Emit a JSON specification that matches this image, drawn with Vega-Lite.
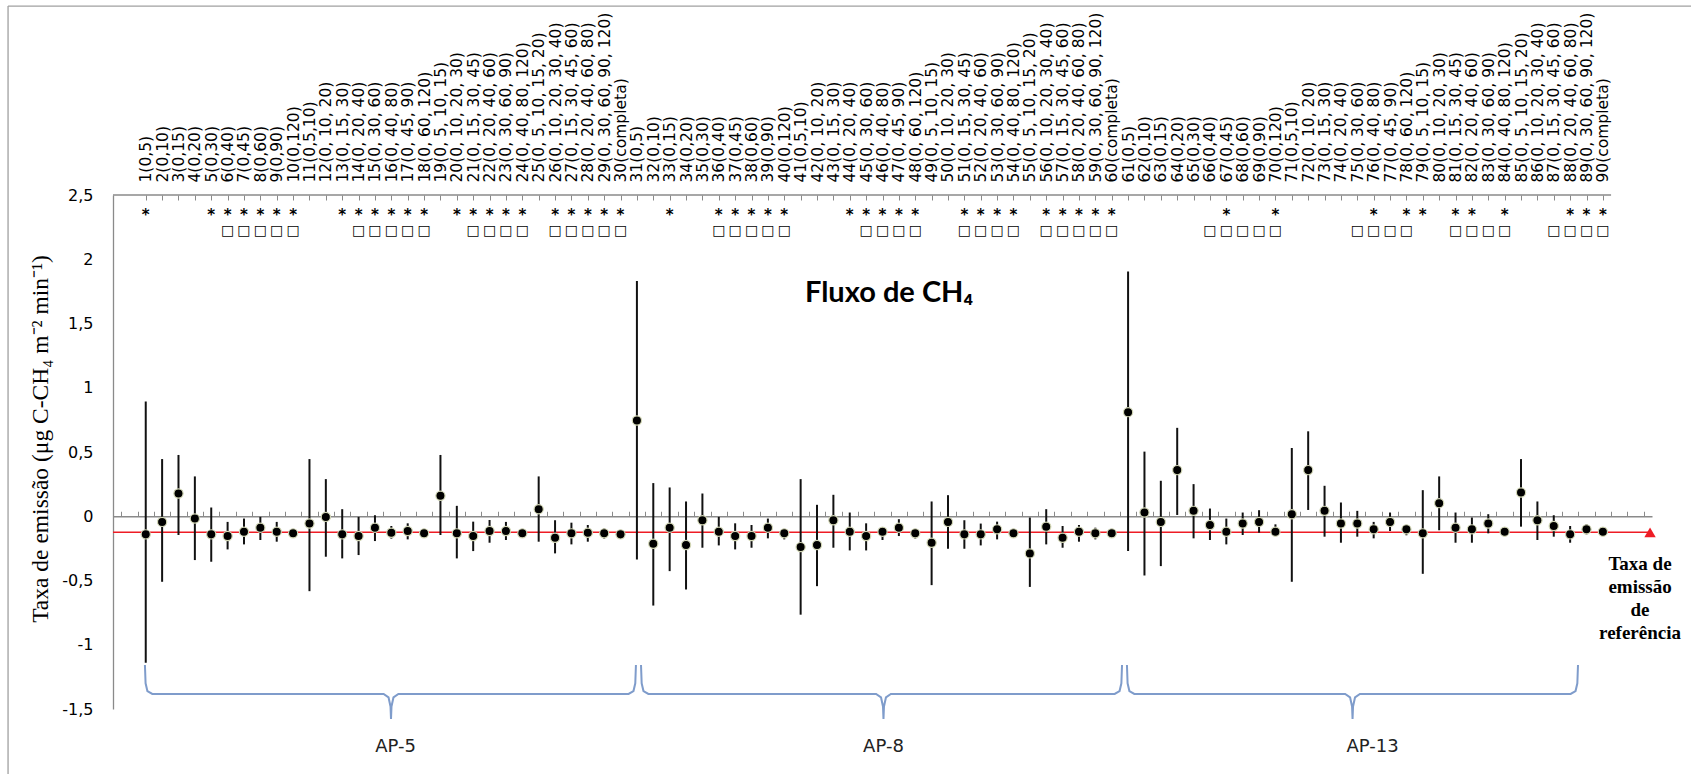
{
  "$schema": "https://vega.github.io/schema/vega-lite/v6.json",
  "width": 1539,
  "height": 514,
  "autosize": {"type": "none"},
  "padding": {"left": 113, "top": 195, "right": 39, "bottom": 65},
  "background": "white",
  "view": {"stroke": null},
  "config": {"axis": {"grid": false}},
  "datasets": {
    "pontos": [
      {"amostra": 1, "media": -0.141, "min": -1.14, "max": 0.893, "asterisco": 1, "quadrado": 0},
      {"amostra": 2, "media": -0.044, "min": -0.51, "max": 0.445, "asterisco": 0, "quadrado": 0},
      {"amostra": 3, "media": 0.177, "min": -0.146, "max": 0.477, "asterisco": 0, "quadrado": 0},
      {"amostra": 4, "media": -0.018, "min": -0.341, "max": 0.31, "asterisco": 0, "quadrado": 0},
      {"amostra": 5, "media": -0.141, "min": -0.354, "max": 0.068, "asterisco": 1, "quadrado": 0},
      {"amostra": 6, "media": -0.154, "min": -0.258, "max": -0.044, "asterisco": 1, "quadrado": 1},
      {"amostra": 7, "media": -0.12, "min": -0.219, "max": -0.018, "asterisco": 1, "quadrado": 1},
      {"amostra": 8, "media": -0.089, "min": -0.185, "max": -0.005, "asterisco": 1, "quadrado": 1},
      {"amostra": 9, "media": -0.12, "min": -0.198, "max": -0.044, "asterisco": 1, "quadrado": 1},
      {"amostra": 10, "media": -0.133, "min": -0.167, "max": -0.107, "asterisco": 1, "quadrado": 1},
      {"amostra": 11, "media": -0.057, "min": -0.583, "max": 0.445, "asterisco": 0, "quadrado": 0},
      {"amostra": 12, "media": -0.005, "min": -0.315, "max": 0.289, "asterisco": 0, "quadrado": 0},
      {"amostra": 13, "media": -0.141, "min": -0.328, "max": 0.055, "asterisco": 1, "quadrado": 0},
      {"amostra": 14, "media": -0.154, "min": -0.302, "max": -0.005, "asterisco": 1, "quadrado": 1},
      {"amostra": 15, "media": -0.089, "min": -0.193, "max": 0.008, "asterisco": 1, "quadrado": 1},
      {"amostra": 16, "media": -0.128, "min": -0.174, "max": -0.076, "asterisco": 1, "quadrado": 1},
      {"amostra": 17, "media": -0.115, "min": -0.18, "max": -0.055, "asterisco": 1, "quadrado": 1},
      {"amostra": 18, "media": -0.133, "min": -0.167, "max": -0.1, "asterisco": 1, "quadrado": 1},
      {"amostra": 19, "media": 0.159, "min": -0.146, "max": 0.477, "asterisco": 0, "quadrado": 0},
      {"amostra": 20, "media": -0.133, "min": -0.328, "max": 0.081, "asterisco": 1, "quadrado": 0},
      {"amostra": 21, "media": -0.154, "min": -0.271, "max": -0.042, "asterisco": 1, "quadrado": 1},
      {"amostra": 22, "media": -0.115, "min": -0.206, "max": -0.029, "asterisco": 1, "quadrado": 1},
      {"amostra": 23, "media": -0.115, "min": -0.185, "max": -0.044, "asterisco": 1, "quadrado": 1},
      {"amostra": 24, "media": -0.133, "min": -0.167, "max": -0.107, "asterisco": 1, "quadrado": 1},
      {"amostra": 25, "media": 0.055, "min": -0.198, "max": 0.31, "asterisco": 0, "quadrado": 0},
      {"amostra": 26, "media": -0.167, "min": -0.289, "max": -0.031, "asterisco": 1, "quadrado": 1},
      {"amostra": 27, "media": -0.133, "min": -0.219, "max": -0.05, "asterisco": 1, "quadrado": 1},
      {"amostra": 28, "media": -0.128, "min": -0.198, "max": -0.068, "asterisco": 1, "quadrado": 1},
      {"amostra": 29, "media": -0.133, "min": -0.174, "max": -0.096, "asterisco": 1, "quadrado": 1},
      {"amostra": 30, "media": -0.141, "min": -0.167, "max": -0.115, "asterisco": 1, "quadrado": 1},
      {"amostra": 31, "media": 0.745, "min": -0.336, "max": 1.83, "asterisco": 0, "quadrado": 0},
      {"amostra": 32, "media": -0.214, "min": -0.695, "max": 0.258, "asterisco": 0, "quadrado": 0},
      {"amostra": 33, "media": -0.089, "min": -0.427, "max": 0.224, "asterisco": 1, "quadrado": 0},
      {"amostra": 34, "media": -0.224, "min": -0.57, "max": 0.115, "asterisco": 0, "quadrado": 0},
      {"amostra": 35, "media": -0.031, "min": -0.245, "max": 0.177, "asterisco": 0, "quadrado": 0},
      {"amostra": 36, "media": -0.12, "min": -0.227, "max": -0.005, "asterisco": 1, "quadrado": 1},
      {"amostra": 37, "media": -0.154, "min": -0.258, "max": -0.055, "asterisco": 1, "quadrado": 1},
      {"amostra": 38, "media": -0.154, "min": -0.245, "max": -0.068, "asterisco": 1, "quadrado": 1},
      {"amostra": 39, "media": -0.089, "min": -0.172, "max": -0.018, "asterisco": 1, "quadrado": 1},
      {"amostra": 40, "media": -0.133, "min": -0.18, "max": -0.1, "asterisco": 1, "quadrado": 1},
      {"amostra": 41, "media": -0.24, "min": -0.766, "max": 0.289, "asterisco": 0, "quadrado": 0},
      {"amostra": 42, "media": -0.224, "min": -0.544, "max": 0.089, "asterisco": 0, "quadrado": 0},
      {"amostra": 43, "media": -0.031, "min": -0.245, "max": 0.167, "asterisco": 0, "quadrado": 0},
      {"amostra": 44, "media": -0.12, "min": -0.266, "max": 0.029, "asterisco": 1, "quadrado": 0},
      {"amostra": 45, "media": -0.154, "min": -0.266, "max": -0.055, "asterisco": 1, "quadrado": 1},
      {"amostra": 46, "media": -0.12, "min": -0.185, "max": -0.089, "asterisco": 1, "quadrado": 1},
      {"amostra": 47, "media": -0.089, "min": -0.154, "max": -0.023, "asterisco": 1, "quadrado": 1},
      {"amostra": 48, "media": -0.133, "min": -0.174, "max": -0.1, "asterisco": 1, "quadrado": 1},
      {"amostra": 49, "media": -0.206, "min": -0.536, "max": 0.115, "asterisco": 0, "quadrado": 0},
      {"amostra": 50, "media": -0.044, "min": -0.253, "max": 0.164, "asterisco": 0, "quadrado": 0},
      {"amostra": 51, "media": -0.141, "min": -0.253, "max": -0.031, "asterisco": 1, "quadrado": 1},
      {"amostra": 52, "media": -0.141, "min": -0.227, "max": -0.057, "asterisco": 1, "quadrado": 1},
      {"amostra": 53, "media": -0.102, "min": -0.18, "max": -0.042, "asterisco": 1, "quadrado": 1},
      {"amostra": 54, "media": -0.133, "min": -0.167, "max": -0.1, "asterisco": 1, "quadrado": 1},
      {"amostra": 55, "media": -0.289, "min": -0.55, "max": -0.01, "asterisco": 0, "quadrado": 0},
      {"amostra": 56, "media": -0.081, "min": -0.219, "max": 0.055, "asterisco": 1, "quadrado": 1},
      {"amostra": 57, "media": -0.167, "min": -0.245, "max": -0.076, "asterisco": 1, "quadrado": 1},
      {"amostra": 58, "media": -0.12, "min": -0.198, "max": -0.068, "asterisco": 1, "quadrado": 1},
      {"amostra": 59, "media": -0.133, "min": -0.18, "max": -0.089, "asterisco": 1, "quadrado": 1},
      {"amostra": 60, "media": -0.133, "min": -0.154, "max": -0.115, "asterisco": 1, "quadrado": 1},
      {"amostra": 61, "media": 0.81, "min": -0.271, "max": 1.904, "asterisco": 0, "quadrado": 0},
      {"amostra": 62, "media": 0.029, "min": -0.461, "max": 0.503, "asterisco": 0, "quadrado": 0},
      {"amostra": 63, "media": -0.044, "min": -0.388, "max": 0.276, "asterisco": 0, "quadrado": 0},
      {"amostra": 64, "media": 0.359, "min": 0.01, "max": 0.688, "asterisco": 0, "quadrado": 0},
      {"amostra": 65, "media": 0.042, "min": -0.172, "max": 0.25, "asterisco": 0, "quadrado": 0},
      {"amostra": 66, "media": -0.068, "min": -0.185, "max": 0.06, "asterisco": 0, "quadrado": 1},
      {"amostra": 67, "media": -0.12, "min": -0.219, "max": -0.018, "asterisco": 1, "quadrado": 1},
      {"amostra": 68, "media": -0.057, "min": -0.146, "max": 0.029, "asterisco": 0, "quadrado": 1},
      {"amostra": 69, "media": -0.044, "min": -0.128, "max": 0.047, "asterisco": 0, "quadrado": 1},
      {"amostra": 70, "media": -0.12, "min": -0.154, "max": -0.063, "asterisco": 1, "quadrado": 1},
      {"amostra": 71, "media": 0.016, "min": -0.51, "max": 0.531, "asterisco": 0, "quadrado": 0},
      {"amostra": 72, "media": 0.359, "min": 0.049, "max": 0.661, "asterisco": 0, "quadrado": 0},
      {"amostra": 73, "media": 0.042, "min": -0.159, "max": 0.237, "asterisco": 0, "quadrado": 0},
      {"amostra": 74, "media": -0.057, "min": -0.206, "max": 0.107, "asterisco": 0, "quadrado": 0},
      {"amostra": 75, "media": -0.057, "min": -0.159, "max": 0.042, "asterisco": 0, "quadrado": 1},
      {"amostra": 76, "media": -0.102, "min": -0.172, "max": -0.044, "asterisco": 1, "quadrado": 1},
      {"amostra": 77, "media": -0.044, "min": -0.115, "max": 0.029, "asterisco": 0, "quadrado": 1},
      {"amostra": 78, "media": -0.102, "min": -0.148, "max": -0.068, "asterisco": 1, "quadrado": 1},
      {"amostra": 79, "media": -0.133, "min": -0.448, "max": 0.203, "asterisco": 1, "quadrado": 0},
      {"amostra": 80, "media": 0.102, "min": -0.109, "max": 0.31, "asterisco": 0, "quadrado": 0},
      {"amostra": 81, "media": -0.089, "min": -0.206, "max": 0.029, "asterisco": 1, "quadrado": 1},
      {"amostra": 82, "media": -0.102, "min": -0.206, "max": -0.01, "asterisco": 1, "quadrado": 1},
      {"amostra": 83, "media": -0.057, "min": -0.133, "max": 0.016, "asterisco": 0, "quadrado": 1},
      {"amostra": 84, "media": -0.12, "min": -0.154, "max": -0.089, "asterisco": 1, "quadrado": 1},
      {"amostra": 85, "media": 0.185, "min": -0.081, "max": 0.445, "asterisco": 0, "quadrado": 0},
      {"amostra": 86, "media": -0.031, "min": -0.185, "max": 0.115, "asterisco": 0, "quadrado": 0},
      {"amostra": 87, "media": -0.076, "min": -0.159, "max": 0.008, "asterisco": 0, "quadrado": 1},
      {"amostra": 88, "media": -0.141, "min": -0.206, "max": -0.076, "asterisco": 1, "quadrado": 1},
      {"amostra": 89, "media": -0.102, "min": -0.141, "max": -0.063, "asterisco": 1, "quadrado": 1},
      {"amostra": 90, "media": -0.12, "min": -0.148, "max": -0.089, "asterisco": 1, "quadrado": 1}
    ],
    "chaves": [
      {"chave": "AP-5", "k": 1, "x": 0.95, "y": -1.158},
      {"chave": "AP-5", "k": 2, "x": 0.99, "y": -1.3},
      {"chave": "AP-5", "k": 3, "x": 1.1, "y": -1.36},
      {"chave": "AP-5", "k": 4, "x": 1.4, "y": -1.383},
      {"chave": "AP-5", "k": 5, "x": 15.53, "y": -1.383},
      {"chave": "AP-5", "k": 6, "x": 15.83, "y": -1.41},
      {"chave": "AP-5", "k": 7, "x": 15.95, "y": -1.48},
      {"chave": "AP-5", "k": 8, "x": 15.98, "y": -1.578},
      {"chave": "AP-5", "k": 9, "x": 16.01, "y": -1.48},
      {"chave": "AP-5", "k": 10, "x": 16.13, "y": -1.41},
      {"chave": "AP-5", "k": 11, "x": 16.43, "y": -1.383},
      {"chave": "AP-5", "k": 12, "x": 30.49, "y": -1.383},
      {"chave": "AP-5", "k": 13, "x": 30.79, "y": -1.36},
      {"chave": "AP-5", "k": 14, "x": 30.9, "y": -1.3},
      {"chave": "AP-5", "k": 15, "x": 30.94, "y": -1.158},
      {"chave": "AP-8", "k": 1, "x": 31.25, "y": -1.158},
      {"chave": "AP-8", "k": 2, "x": 31.29, "y": -1.3},
      {"chave": "AP-8", "k": 3, "x": 31.4, "y": -1.36},
      {"chave": "AP-8", "k": 4, "x": 31.7, "y": -1.383},
      {"chave": "AP-8", "k": 5, "x": 45.61, "y": -1.383},
      {"chave": "AP-8", "k": 6, "x": 45.91, "y": -1.41},
      {"chave": "AP-8", "k": 7, "x": 46.03, "y": -1.48},
      {"chave": "AP-8", "k": 8, "x": 46.06, "y": -1.578},
      {"chave": "AP-8", "k": 9, "x": 46.09, "y": -1.48},
      {"chave": "AP-8", "k": 10, "x": 46.21, "y": -1.41},
      {"chave": "AP-8", "k": 11, "x": 46.51, "y": -1.383},
      {"chave": "AP-8", "k": 12, "x": 60.18, "y": -1.383},
      {"chave": "AP-8", "k": 13, "x": 60.48, "y": -1.36},
      {"chave": "AP-8", "k": 14, "x": 60.59, "y": -1.3},
      {"chave": "AP-8", "k": 15, "x": 60.63, "y": -1.158},
      {"chave": "AP-13", "k": 1, "x": 60.93, "y": -1.158},
      {"chave": "AP-13", "k": 2, "x": 60.97, "y": -1.3},
      {"chave": "AP-13", "k": 3, "x": 61.08, "y": -1.36},
      {"chave": "AP-13", "k": 4, "x": 61.38, "y": -1.383},
      {"chave": "AP-13", "k": 5, "x": 74.26, "y": -1.383},
      {"chave": "AP-13", "k": 6, "x": 74.56, "y": -1.41},
      {"chave": "AP-13", "k": 7, "x": 74.68, "y": -1.48},
      {"chave": "AP-13", "k": 8, "x": 74.71, "y": -1.578},
      {"chave": "AP-13", "k": 9, "x": 74.74, "y": -1.48},
      {"chave": "AP-13", "k": 10, "x": 74.86, "y": -1.41},
      {"chave": "AP-13", "k": 11, "x": 75.16, "y": -1.383},
      {"chave": "AP-13", "k": 12, "x": 88.03, "y": -1.383},
      {"chave": "AP-13", "k": 13, "x": 88.33, "y": -1.36},
      {"chave": "AP-13", "k": 14, "x": 88.44, "y": -1.3},
      {"chave": "AP-13", "k": 15, "x": 88.48, "y": -1.158}
    ],
    "grupos": [
      {"ap": "AP-5", "pos": 16.26},
      {"ap": "AP-8", "pos": 46.06},
      {"ap": "AP-13", "pos": 75.93}
    ],
    "referencia": [
      {"pos": 92.88, "taxa": -0.125, "rotulo": "Taxa de\nemissão\nde\nreferência"}
    ],
    "titulo": [
      {"texto": "Fluxo de CH₄", "pos": 46.4, "nivel": 1.67}
    ]
  },
  "layer": [
    {
      "data": {"values": [{}]},
      "mark": {"type": "rule", "color": "#a0a0a0", "strokeWidth": 1.3},
      "encoding": {
        "x": {"datum": -7.41, "type": "quantitative", "scale": {"domain": [-1, 93], "nice": false, "zero": false}, "axis": null},
        "x2": {"datum": 96},
        "y": {"datum": 3.97, "type": "quantitative", "scale": {"domain": [-1.5, 2.5], "nice": false, "zero": false}}
      }
    },
    {
      "data": {"values": [{}]},
      "mark": {"type": "rule", "color": "#a0a0a0", "strokeWidth": 1.3},
      "encoding": {
        "x": {"datum": -7.41, "type": "quantitative", "scale": {"domain": [-1, 93], "nice": false, "zero": false}, "axis": null},
        "y": {"datum": 3.97, "type": "quantitative", "scale": {"domain": [-1.5, 2.5], "nice": false, "zero": false}},
        "y2": {"datum": -2.1}
      }
    },
    {
      "data": {"values": [{}]},
      "mark": {"type": "rule", "color": "#8a8a8a", "strokeWidth": 1.3},
      "encoding": {
        "x": {"datum": -1, "type": "quantitative", "scale": {"domain": [-1, 93], "nice": false, "zero": false}, "axis": null},
        "x2": {"datum": 90.5},
        "y": {"datum": 2.5, "type": "quantitative", "scale": {"domain": [-1.5, 2.5], "nice": false, "zero": false}}
      }
    },
    {
      "data": {"name": "chaves"},
      "mark": {"type": "line", "color": "#7f9ccb", "strokeWidth": 2, "interpolate": "linear"},
      "encoding": {
        "x": {"field": "x", "type": "quantitative", "scale": {"domain": [-1, 93], "nice": false, "zero": false}, "axis": null},
        "y": {"field": "y", "type": "quantitative", "scale": {"domain": [-1.5, 2.5], "nice": false, "zero": false}},
        "detail": {"field": "chave"},
        "order": {"field": "k", "type": "quantitative"}
      }
    },
    {
      "data": {"name": "referencia"},
      "mark": {"type": "rule", "color": "#ee1c25", "strokeWidth": 1.6},
      "encoding": {
        "y": {"field": "taxa", "type": "quantitative", "scale": {"domain": [-1.5, 2.5], "nice": false, "zero": false}}
      }
    },
    {
      "data": {"name": "referencia"},
      "mark": {"type": "point", "shape": "triangle-up", "filled": true, "color": "#ee1c25", "size": 130, "opacity": 1},
      "encoding": {
        "x": {"field": "pos", "type": "quantitative", "scale": {"domain": [-1, 93], "nice": false, "zero": false}, "axis": null},
        "y": {"field": "taxa", "type": "quantitative", "scale": {"domain": [-1.5, 2.5], "nice": false, "zero": false}}
      }
    },
    {
      "data": {"name": "pontos"},
      "mark": {"type": "rule", "color": "#111111", "strokeWidth": 2},
      "encoding": {
        "x": {
          "field": "amostra", "type": "quantitative",
          "scale": {"domain": [-1, 93], "nice": false, "zero": false},
          "axis": {
            "orient": "top",
            "title": null,
            "values": [1,2,3,4,5,6,7,8,9,10,11,12,13,14,15,16,17,18,19,20,21,22,23,24,25,26,27,28,29,30,31,32,33,34,35,36,37,38,39,40,41,42,43,44,45,46,47,48,49,50,51,52,53,54,55,56,57,58,59,60,61,62,63,64,65,66,67,68,69,70,71,72,73,74,75,76,77,78,79,80,81,82,83,84,85,86,87,88,89,90],
            "labelExpr": "datum.value + ['(0,5)','(0,10)','(0,15)','(0,20)','(0,30)','(0,40)','(0,45)','(0,60)','(0,90)','(0,120)','(0,5,10)','(0, 10, 20)','(0, 15, 30)','(0, 20, 40)','(0, 30, 60)','(0, 40, 80)','(0, 45, 90)','(0, 60, 120)','(0, 5, 10, 15)','(0, 10, 20, 30)','(0, 15, 30, 45)','(0, 20, 40, 60)','(0, 30, 60, 90)','(0, 40, 80, 120)','(0, 5, 10, 15, 20)','(0, 10, 20, 30, 40)','(0, 15, 30, 45, 60)','(0, 20, 40, 60, 80)','(0, 30, 60, 90, 120)','(completa)'][(datum.value - 1) % 30]",
            "labelAngle": -90,
            "labelAlign": "left",
            "labelBaseline": "middle",
            "labelFont": "DejaVu Sans",
            "labelFontSize": 15.5,
            "labelColor": "#000000",
            "labelPadding": 18,
            "labelOverlap": false,
            "labelBound": false,
            "labelFlush": false,
            "tickSize": -5,
            "tickColor": "#8a8a8a",
            "tickWidth": 1,
            "domain": false
          }
        },
        "y": {
          "field": "min", "type": "quantitative",
          "scale": {"domain": [-1.5, 2.5], "nice": false, "zero": false},
          "axis": {
            "values": [-1.5, -1, -0.5, 0, 0.5, 1, 1.5, 2, 2.5],
            "labelExpr": "replace(toString(datum.value), '.', ',')",
            "ticks": false,
            "domainColor": "#8a8a8a",
            "domainWidth": 1.3,
            "labelFont": "DejaVu Sans",
            "labelFontSize": 16,
            "labelColor": "#000000",
            "labelPadding": 20,
            "title": "Taxa de emissão (μg C-CH₄ m⁻² min⁻¹)",
            "titleFont": "Liberation Serif",
            "titleFontSize": 23.5,
            "titleFontWeight": "normal",
            "titleColor": "#000000",
            "titleAngle": -90,
            "titleX": -73,
            "titleY": 243.5,
            "titleAlign": "center",
            "titleBaseline": "middle"
          }
        },
        "y2": {"field": "max"}
      }
    },
    {
      "data": {"name": "pontos"},
      "mark": {"type": "circle", "size": 85, "color": "#000000", "opacity": 1, "stroke": "#d3d7b6", "strokeWidth": 1.2},
      "encoding": {
        "x": {
          "field": "amostra", "type": "quantitative",
          "scale": {"domain": [-1, 93], "nice": false, "zero": false},
          "axis": {
            "orient": "bottom",
            "title": null,
            "offset": -192.75,
            "values": [-0.5,0.5,1.5,2.5,3.5,4.5,5.5,6.5,7.5,8.5,9.5,10.5,11.5,12.5,13.5,14.5,15.5,16.5,17.5,18.5,19.5,20.5,21.5,22.5,23.5,24.5,25.5,26.5,27.5,28.5,29.5,30.5,31.5,32.5,33.5,34.5,35.5,36.5,37.5,38.5,39.5,40.5,41.5,42.5,43.5,44.5,45.5,46.5,47.5,48.5,49.5,50.5,51.5,52.5,53.5,54.5,55.5,56.5,57.5,58.5,59.5,60.5,61.5,62.5,63.5,64.5,65.5,66.5,67.5,68.5,69.5,70.5,71.5,72.5,73.5,74.5,75.5,76.5,77.5,78.5,79.5,80.5,81.5,82.5,83.5,84.5,85.5,86.5,87.5,88.5,89.5,90.5,91.5,92.5],
            "labels": false,
            "tickSize": -5,
            "tickColor": "#8a8a8a",
            "tickWidth": 1,
            "domainColor": "#8a8a8a",
            "domainWidth": 1.5
          }
        },
        "y": {"field": "media", "type": "quantitative", "scale": {"domain": [-1.5, 2.5], "nice": false, "zero": false}}
      }
    },
    {
      "data": {"name": "pontos"},
      "transform": [{"filter": "datum.asterisco == 1"}],
      "mark": {"type": "text", "text": "*", "font": "DejaVu Sans", "fontWeight": "bold", "fontSize": 15, "baseline": "middle", "dy": 3, "color": "#000000"},
      "encoding": {
        "x": {"field": "amostra", "type": "quantitative", "scale": {"domain": [-1, 93], "nice": false, "zero": false}, "axis": null},
        "y": {"datum": 2.37, "type": "quantitative"}
      }
    },
    {
      "data": {"name": "pontos"},
      "transform": [{"filter": "datum.quadrado == 1"}],
      "mark": {"type": "text", "text": "□", "font": "DejaVu Sans", "fontSize": 14, "baseline": "middle", "color": "#000000"},
      "encoding": {
        "x": {"field": "amostra", "type": "quantitative", "scale": {"domain": [-1, 93], "nice": false, "zero": false}, "axis": null},
        "y": {"datum": 2.222, "type": "quantitative"}
      }
    },
    {
      "data": {"name": "referencia"},
      "mark": {"type": "text", "font": "Liberation Serif", "fontWeight": "bold", "fontSize": 19, "lineBreak": "\n", "lineHeight": 23, "baseline": "top", "align": "center", "dx": -10, "color": "#000000"},
      "encoding": {
        "x": {"field": "pos", "type": "quantitative", "scale": {"domain": [-1, 93], "nice": false, "zero": false}, "axis": null},
        "y": {"datum": -0.3, "type": "quantitative"},
        "text": {"field": "rotulo"}
      }
    },
    {
      "data": {"name": "grupos"},
      "mark": {"type": "text", "font": "DejaVu Sans", "fontSize": 18, "baseline": "middle", "align": "center", "color": "#222222"},
      "encoding": {
        "x": {"field": "pos", "type": "quantitative", "scale": {"domain": [-1, 93], "nice": false, "zero": false}, "axis": null},
        "y": {"datum": -1.796, "type": "quantitative"},
        "text": {"field": "ap"}
      }
    },
    {
      "data": {"name": "titulo"},
      "mark": {"type": "text", "font": "Lato", "fontWeight": "bold", "fontSize": 29, "baseline": "alphabetic", "align": "center", "color": "#000000"},
      "encoding": {
        "x": {"field": "pos", "type": "quantitative", "scale": {"domain": [-1, 93], "nice": false, "zero": false}, "axis": null},
        "y": {"field": "nivel", "type": "quantitative"},
        "text": {"field": "texto"}
      }
    }
  ],
  "resolve": {"axis": {"x": "independent"}}
}
